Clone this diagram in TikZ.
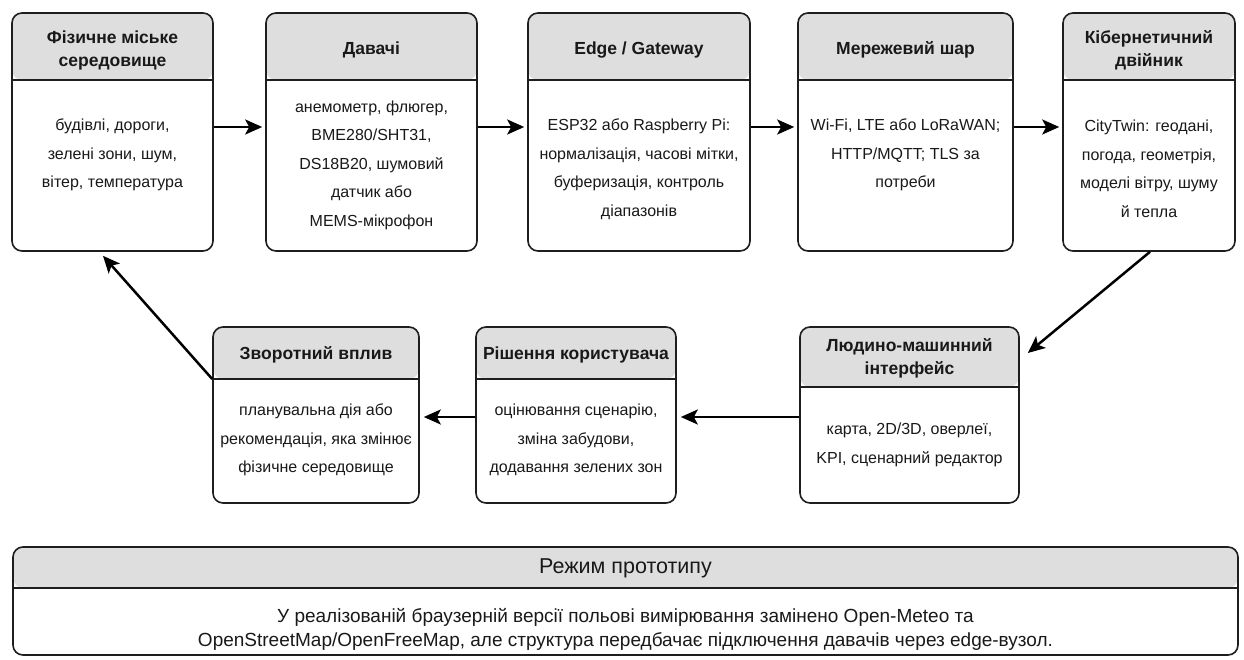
\documentclass[tikz,border=0pt]{standalone}
\usepackage{fontspec}
\setmainfont{Liberation Sans}
\usetikzlibrary{arrows.meta,calc}
\definecolor{headgray}{HTML}{DEDEDE}
\definecolor{edgecol}{HTML}{1E1E1E}
\tikzset{
 card/.style={draw=edgecol, line width=1.6pt, rounded corners=10pt, fill=white, inner sep=0pt,
   path picture={\fill[headgray] (path picture bounding box.north west) rectangle ([yshift=-#1]path picture bounding box.north east);
     \draw[edgecol, line width=1.6pt] ([yshift=-#1]path picture bounding box.north west) -- ([yshift=-#1]path picture bounding box.north east);}},
 head/.style={font=\fontsize{17.5}{23}\selectfont\bfseries, align=center, inner sep=0pt, text=black!90},
 body/.style={font=\fontsize{16}{28.5}\selectfont, align=center, inner sep=0pt, text=black!90},
 ptitle/.style={font=\fontsize{21.5}{24}\selectfont, align=center, inner sep=0pt, text=black!90},
 pbody/.style={font=\fontsize{19}{24}\selectfont, align=center, inner sep=0pt, text=black!90},
 arr/.style={draw=black, line width=2.5pt, -{Stealth[length=17pt,width=15pt,inset=4pt]}},
}
\begin{document}
\begin{tikzpicture}[x=1pt,y=-1pt]
\useasboundingbox[fill=white] (0,0) rectangle (1244,660);
% top row
\node[card=67pt, minimum width=201pt, minimum height=238pt] (b1) at (112.5,132) {};
\node[card=67pt, minimum width=211pt, minimum height=238pt] (b2) at (371.5,132) {};
\node[card=67pt, minimum width=222pt, minimum height=238pt] (b3) at (639,132) {};
\node[card=67pt, minimum width=215pt, minimum height=238pt] (b4) at (905.5,132) {};
\node[card=67pt, minimum width=172pt, minimum height=238pt] (b5) at (1149,132) {};
\node[head] (h1) at (112.5,50) {Фізичне міське\\середовище};
\node[head] (h2) at (371.5,50) {Давачі};
\node[head] (h3) at (639,50) {Edge / Gateway};
\node[head] (h4) at (905.5,50) {Мережевий шар};
\node[head] (h5) at (1149,50) {Кібернетичний\\двійник};
\node[body] (t1) at (112.5,155) {будівлі, дороги,\\зелені зони, шум,\\вітер, температура};
\node[body] (t2) at (371.5,165) {анемометр, флюгер,\\BME280/SHT31,\\DS18B20, шумовий\\датчик або\\MEMS-мікрофон};
\node[body] (t3) at (639,169) {ESP32 або Raspberry Pi:\\нормалізація, часові мітки,\\буферизація, контроль\\діапазонів};
\node[body] (t4) at (905.5,155) {Wi-Fi, LTE або LoRaWAN;\\HTTP/MQTT; TLS за\\потреби};
\node[body] (t5) at (1149,169) {CityTwin: геодані,\\погода, геометрія,\\моделі вітру, шуму\\й тепла};
% bottom row
\node[card=52pt, minimum width=206pt, minimum height=176pt] (c1) at (316,415) {};
\node[card=52pt, minimum width=200pt, minimum height=176pt] (c2) at (576,415) {};
\node[card=60pt, minimum width=219pt, minimum height=176pt] (c3) at (909.5,415) {};
\node[head] (g1) at (316,355) {Зворотний вплив};
\node[head] (g2) at (576,355) {Рішення користувача};
\node[head] (g3) at (909.5,358) {Людино-машинний\\інтерфейс};
\node[body] (s1) at (316,440) {планувальна дія або\\рекомендація, яка змінює\\фізичне середовище};
\node[body] (s2) at (576,440) {оцінювання сценарію,\\зміна забудови,\\додавання зелених зон};
\node[body] (s3) at (909.5,445) {карта, 2D/3D, оверлеї,\\KPI, сценарний редактор};
% prototype
\node[card=41pt, minimum width=1225pt, minimum height=108pt] (p) at (625.5,601) {};
\node[ptitle] (pt) at (625.5,568) {Режим прототипу};
\node[pbody] (pb) at (625.5,629) {У реалізованій браузерній версії польові вимірювання замінено Open-Meteo та\\OpenStreetMap/OpenFreeMap, але структура передбачає підключення давачів через edge-вузол.};
% arrows
\draw[arr] ([yshift=5pt]b1.east) -- ([yshift=5pt,xshift=-3pt]b2.west);
\draw[arr] ([yshift=5pt]b2.east) -- ([yshift=5pt,xshift=-3pt]b3.west);
\draw[arr] ([yshift=5pt]b3.east) -- ([yshift=5pt,xshift=-3pt]b4.west);
\draw[arr] ([yshift=5pt]b4.east) -- ([yshift=5pt,xshift=-3pt]b5.west);
\draw[arr] ([xshift=1pt]b5.south) -- ([xshift=8pt,yshift=62pt]c3.east);
\draw[arr] ([yshift=-2pt]c3.west) -- ([yshift=-2pt,xshift=4pt]c2.east);
\draw[arr] ([yshift=-2pt]c2.west) -- ([yshift=-2pt,xshift=4pt]c1.east);
\draw[arr] ([yshift=36pt]c1.west) -- ([xshift=-9.5pt,yshift=-4pt]b1.south);
\end{tikzpicture}
\end{document}
